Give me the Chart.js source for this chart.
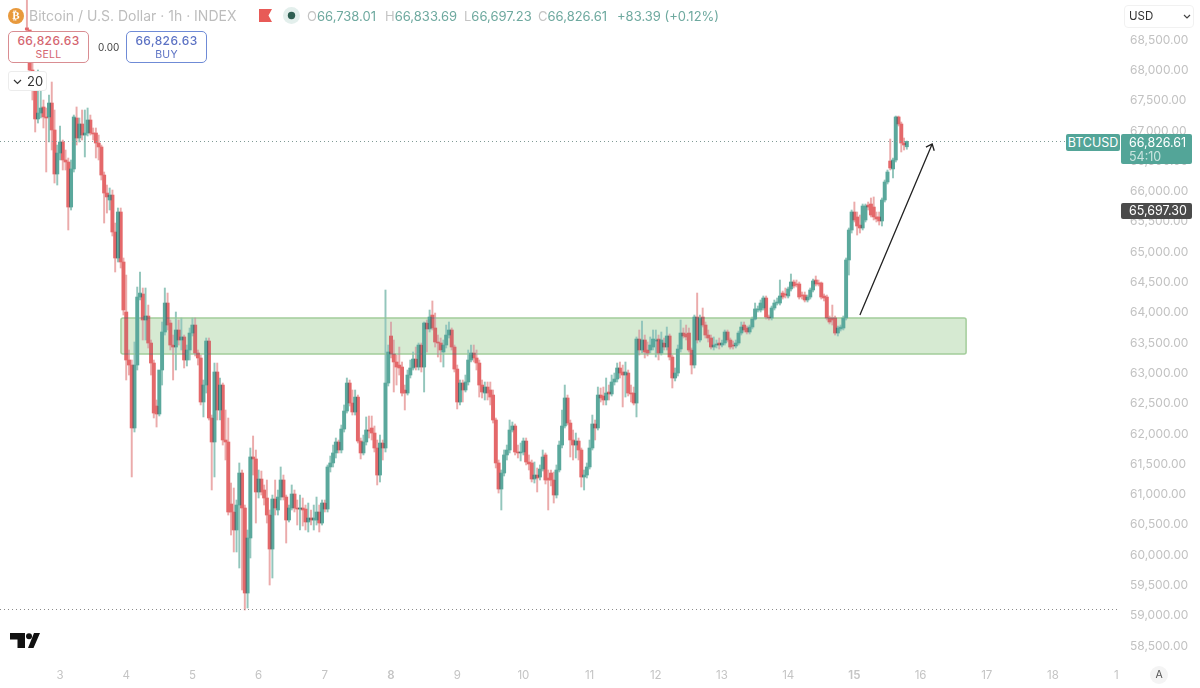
<!DOCTYPE html>
<html>
<head>
<meta charset="utf-8">
<title>BTCUSD 1h</title>
<script src="https://cdn.jsdelivr.net/npm/chart.js@4/dist/chart.umd.min.js"></script>
<style>
  html, body { margin: 0; padding: 0; background: #fff; }
  body { font-family: Inter, "Noto Sans", sans-serif; }
  #wrap { position: relative; width: 1200px; height: 688px; overflow: hidden; }
  #chart { display: block; }
  .abs { position: absolute; white-space: nowrap; }
  .legend { top: 8px; height: 16px; line-height: 16px; font-size: 13px; color: #6ea99f; }
  .legend i { font-style: normal; color: #c4c4c4; }
  .title { left: 29px; top: 7px; font-size: 14px; line-height: 18px; color: #bdbdbd; }
  .trade { top: 31px; height: 30px; width: 79px; background: #fff; border: 1px solid; border-radius: 5px; text-align: center; }
  .trade b { display: block; font-weight: 500; font-size: 12px; line-height: 16px; margin-top: 1px; letter-spacing: .4px; }
  .trade span { display: block; font-size: 10.5px; line-height: 11px; letter-spacing: .3px; }
  .sell { left: 8px; border-color: #d98d92; color: #d4656f; }
  .buy { left: 126px; border-color: #6f8bd6; color: #5c72c4; }
  .tag { color: #fff; font-size: 12.5px; border-radius: 2px; }
</style>
</head>
<body>
<div id="wrap">
  <canvas id="chart" width="1200" height="688"></canvas>

  <div class="abs" style="left:8px;top:8px;width:16px;height:16px;border-radius:50%;background:#e8993c;color:#fff;font:bold 11px/16px 'DejaVu Sans';text-align:center;">₿</div>
  <div class="abs title">Bitcoin / U.S. Dollar · 1h · INDEX</div>
  <svg class="abs" style="left:259px;top:9px" width="13" height="13"><path d="M0 0H13L9.5 6.5L13 13H0Z" fill="#e85a57"/></svg>
  <svg class="abs" style="left:282px;top:6px" width="19" height="19"><circle cx="9.5" cy="9.5" r="8.5" fill="#e3efec"/><circle cx="9.5" cy="9.5" r="3.7" fill="#2f5f52"/></svg>
  <div class="abs legend" style="left:307px"><i>O</i>66,738.01</div>
  <div class="abs legend" style="left:385px"><i>H</i>66,833.69</div>
  <div class="abs legend" style="left:464px"><i>L</i>66,697.23</div>
  <div class="abs legend" style="left:538px"><i>C</i>66,826.61</div>
  <div class="abs legend" style="left:617px">+83.39 (+0.12%)</div>

  <div class="abs trade sell"><b>66,826.63</b><span>SELL</span></div>
  <div class="abs" style="left:98px;top:41px;font-size:10px;line-height:12px;color:#444">0.00</div>
  <div class="abs trade buy"><b>66,826.63</b><span>BUY</span></div>

  <div class="abs" style="left:8px;top:71px;width:37px;height:18px;background:#fff;border:1px solid #ececec;border-radius:3px;font-size:13px;line-height:18px;color:#333">
    <svg style="position:absolute;left:4px;top:7px" width="9" height="6"><path d="M1 1L4.5 4.5L8 1" fill="none" stroke="#333" stroke-width="1.2"/></svg>
    <span style="position:absolute;left:18px">20</span>
  </div>

  <div class="abs" style="left:1124px;top:5px;width:68px;height:21px;background:#fff;border:1px solid #f1f1f1;border-radius:4px;font-size:11.5px;line-height:21px;color:#333">
    <span style="position:absolute;left:4px">USD</span>
    <svg style="position:absolute;left:58px;top:8px" width="8" height="6"><path d="M1 1L4 4L7 1" fill="none" stroke="#444" stroke-width="1.2"/></svg>
  </div>

  <div class="abs tag" style="left:1066px;top:134px;width:54px;height:17px;line-height:17px;background:#53a598;text-align:center;">BTCUSD</div>
  <div class="abs tag" style="left:1121px;top:134px;width:71px;height:30px;background:#53a598;">
    <div style="position:absolute;left:8px;top:1px;line-height:15px">66,826.61</div>
    <div style="position:absolute;left:8px;top:15px;line-height:15px;color:#c9e4df">54:10</div>
  </div>
  <div class="abs tag" style="left:1121px;top:203px;width:71px;height:16px;line-height:16px;background:#4b4b4b;text-indent:8px;">65,697.30</div>

  <svg class="abs" style="left:10px;top:633px" width="30" height="15"><path d="M0 0H15V15H7.5V6.5H0ZM18 15L24 0H30L23.5 15Z" fill="#111"/><circle cx="19" cy="3.2" r="3" fill="#111"/></svg>
  <div class="abs" style="left:1150px;top:666px;width:18px;height:18px;border-radius:50%;background:#f4f4f4;font-size:10.5px;line-height:18px;text-align:center;color:#555">A</div>
</div>

<script>
  // Hourly candles, hour 0 is the start of the 3rd
  const firstHour = -12;

  const opens = [
    68700,68665,68005,67708,67197,67295,67395,67230,67230,67460,67015,66289,
    66635,66817,66520,66487,65744,66372,67213,66883,67114,66932,66965,67180,
    66965,66965,66800,66735,66272,65975,65860,65942,65332,64903,65662,64837,
    64012,63220,63137,62098,63137,64259,64309,63880,63946,63500,63170,62461,
    62329,63055,63682,64160,63830,63467,63434,63715,63550,63600,63220,63385,
    63665,63797,63335,63253,62527,62807,63533,62263,61867,63022,62395,62807,
    61900,61867,60844,60712,60415,60827,61355,60778,59375,60283,61620,61587,
    61042,61256,61075,60943,60662,60101,60926,60745,60959,61240,60959,60580,
    60778,61009,60778,60761,60778,60761,60547,60613,60580,60580,60712,60530,
    60860,60761,61455,61521,61686,61867,61735,62081,62378,62840,62510,62362,
    62608,61883,61686,61867,62065,62098,62015,61768,61322,61850,61768,62840,
    63616,63319,63187,63137,63104,62725,62675,62972,63088,63236,63104,63467,
    63104,63830,63732,63962,63748,63517,63500,63352,63467,63632,63715,63434,
    63071,62527,62840,62725,62857,63220,63335,63253,63170,62807,62675,62774,
    62725,62642,62230,61521,61091,61355,61653,61735,62065,62131,61702,61686,
    61702,61883,61537,61521,61256,61322,61289,61421,61653,61273,61355,61240,
    60992,61405,61817,62131,62593,62180,61900,61817,61883,61735,61289,61322,
    61455,61768,62164,62098,62642,62626,62560,62692,62659,62857,62906,63088,
    63022,62972,63005,62675,62675,62510,63566,63385,63550,63385,63385,63434,
    63533,63566,63335,63500,63434,63616,63269,62923,63005,63401,63665,63649,
    63665,63385,63137,63929,63550,63929,63797,63632,63583,63434,63467,63500,
    63467,63500,63682,63550,63467,63451,63500,63665,63797,63748,63682,63764,
    63896,64045,64045,64078,64243,63929,63913,64078,64160,64160,64325,64309,
    64276,64392,64507,64474,64474,64292,64292,64210,64259,64375,64540,64491,
    64491,64276,64259,63913,63913,63913,63665,63732,63748,63913,64870,65365,
    65662,65580,65447,65398,65530,65777,65794,65744,65580,65580,65514,65860,
    66157,66503,66372,66520,67230,67114,66800,66738.01
  ];

  const highs = [
    70150,68665,68170,67922,68005,67675,67510,67378,67592,67807,67345,66767,
    67081,66850,66685,66553,66520,67262,67395,67213,67345,67345,67378,67262,
    67048,67048,66932,66767,66322,66107,66058,66025,65480,65728,65728,64903,
    64622,63385,63220,63517,64424,64672,64408,64408,64127,63550,63220,62560,
    62972,63847,64408,64325,63880,63632,64012,63880,63913,63632,63467,63748,
    63913,63913,63385,63302,62890,63583,63583,62312,63170,63170,62923,62840,
    62395,62263,61190,61108,60910,61521,61405,60827,60415,61768,61966,61735,
    61405,61388,61158,61240,60745,60992,61240,61075,61455,61322,60992,60827,
    61158,61075,60910,60992,60943,60827,60860,60745,60827,60959,60827,60910,
    60910,61488,61636,61817,61933,61900,62147,62478,62923,62890,62725,62725,
    62642,61933,61982,62280,62296,62296,62131,61900,61982,61900,64375,63467,
    63847,63550,63302,63434,63187,62807,63055,63220,63352,63434,63500,63500,
    63847,63880,64045,64194,63995,63632,63583,63550,63797,63847,63748,63467,
    63137,62890,62890,62972,63385,63467,63467,63385,63220,62890,62857,62857,
    62857,62725,62263,61570,61405,61735,61817,62230,62197,62164,61817,61850,
    61933,61933,61653,61570,61537,61438,61488,61735,61686,61405,61405,61372,
    61488,61883,62395,62807,62642,62230,62065,62015,61933,61768,61405,61521,
    61900,62312,62230,62774,62758,62774,62923,62807,62972,63005,63170,63187,
    63137,63187,63055,62807,62774,63600,63715,63863,63632,63517,63600,63715,
    63715,63632,63682,63583,63764,63649,63302,63088,63467,63880,63748,63797,
    63748,63418,63962,64325,63962,64078,63847,63715,63632,63600,63550,63583,
    63550,63715,63715,63583,63533,63550,63698,63847,63847,63781,63797,63929,
    64160,64111,64210,64276,64276,63962,64111,64210,64243,64540,64358,64408,
    64424,64639,64540,64540,64507,64342,64342,64292,64408,64556,64606,64540,
    64507,64309,64292,63946,64127,63946,63781,63797,63946,64903,65398,65695,
    65827,65662,65612,65794,65794,65827,65893,65910,65662,65662,65893,66190,
    66355,66866,66553,67246,67246,67147,66883,66833.69
  ];

  const lows = [
    68632,67922,67510,66982,67130,67213,67048,66322,66817,66685,66140,66107,
    66520,66355,66355,65365,65695,66322,66767,66817,66850,66570,66916,66932,
    66850,66553,66520,66190,65480,65645,65695,65266,64672,64837,64738,63962,
    62890,62972,61290,62032,63055,64210,63550,63550,63418,62972,62263,62114,
    62296,62807,63632,63715,63385,62890,63055,63467,63385,63088,63121,63220,
    63616,63286,63137,62478,62280,62675,62230,61075,61290,62230,62230,61817,
    61570,60662,60332,60052,60052,59788,59425,59095,59128,59953,61322,60530,
    60943,60992,60827,60530,59507,59623,60662,60662,60910,60910,60200,60547,
    60745,60712,60497,60415,60481,60415,60382,60497,60415,60497,60382,60497,
    60712,60712,61372,61455,61603,61686,61686,62032,62345,62461,62312,62312,
    61850,61587,61653,61817,61933,61900,61702,61158,61207,61570,61702,62791,
    63253,62692,62807,62972,62626,62395,62642,62923,63055,63055,63055,63022,
    62692,63352,63682,63715,63434,63269,63187,63104,63418,63583,63385,63022,
    62412,62478,62527,62692,62807,63187,63187,63055,62609,62593,62560,62560,
    62478,62180,61438,61025,60745,61306,61570,61686,62032,61653,61603,61554,
    61653,61488,61405,61207,61190,61042,61240,61388,61174,60745,61141,60860,
    60943,61372,61768,62098,62147,61620,61570,61603,61570,61124,61075,61273,
    61421,61735,61900,62065,62527,62478,62478,62560,62626,62807,62857,62923,
    62445,62609,62626,62527,62478,62280,63302,63335,63253,63286,63335,63385,
    63269,63220,63302,63385,63385,63220,62758,62874,62956,63352,63583,63550,
    63352,62989,63088,63500,63517,63764,63583,63517,63401,63385,63418,63401,
    63434,63467,63517,63401,63401,63418,63467,63632,63682,63649,63649,63732,
    63880,64012,64012,64045,63896,63880,63880,64045,64127,64127,64226,64243,
    64243,64358,64408,64424,64226,64226,64177,64177,64226,64342,64441,64441,
    64226,64194,63880,63814,63797,63632,63616,63698,63715,63880,64622,65315,
    65497,65282,65315,65365,65497,65695,65580,65530,65497,65447,65431,65827,
    66124,66355,66223,66487,67081,66652,66685,66697.23
  ];

  const closes = [
    68665,68005,67840,67197,67295,67378,67230,67213,67460,67015,66289,66635,
    66817,66520,66487,65744,66372,67230,66883,67114,66932,66965,67180,66965,
    66949,66800,66735,66272,65975,65910,65942,65332,64903,65662,64837,64045,
    63220,63137,62098,63137,64259,64325,63880,63946,63500,63170,62345,62329,
    63055,63682,64160,63797,63467,63434,63715,63550,63600,63220,63385,63665,
    63797,63335,63253,62527,62807,63533,62263,61867,63022,62395,62807,61900,
    61867,60712,60712,60415,60827,61355,60778,59375,60283,61620,61587,61042,
    61256,61042,60943,60662,60101,60926,60778,60959,61240,60959,60580,60778,
    61009,60778,60761,60778,60745,60547,60613,60580,60613,60712,60530,60860,
    60761,61455,61521,61686,61867,61735,62081,62378,62840,62510,62362,62608,
    61883,61686,61867,62065,62048,62015,61768,61322,61850,61768,62840,63352,
    63319,63187,63104,63088,62675,62675,62972,63088,63236,63104,63467,63104,
    63830,63732,63929,63748,63517,63500,63385,63467,63632,63715,63434,63071,
    62527,62840,62725,62857,63220,63335,63253,63170,62807,62692,62774,62675,
    62609,62230,61521,61091,61355,61653,61735,62065,62131,61702,61686,61702,
    61883,61537,61504,61256,61322,61273,61421,61620,61240,61240,61240,60992,
    61405,61817,62131,62593,62180,61900,61817,61883,61735,61289,61322,61455,
    61768,62164,62098,62642,62593,62560,62675,62659,62857,62906,63088,63005,
    62972,63022,62675,62659,62510,63566,63385,63550,63352,63335,63467,63566,
    63550,63335,63550,63434,63616,63269,62923,63005,63401,63665,63616,63600,
    63385,63137,63929,63550,63913,63797,63632,63583,63434,63467,63484,63467,
    63500,63682,63550,63434,63451,63500,63665,63764,63715,63682,63764,63896,
    64062,64062,64160,64243,63929,63913,64078,64160,64177,64276,64259,64292,
    64392,64507,64441,64458,64259,64276,64210,64259,64375,64524,64474,64474,
    64259,64243,63913,63847,63880,63665,63748,63764,63913,64870,65365,65662,
    65530,65431,65398,65761,65761,65744,65612,65580,65547,65514,65860,66157,
    66322,66388,66520,67230,67114,66800,66767,66826.61
  ];

  // Day marks on the time axis
  const dayHours = [0, 24, 48, 72, 96, 120, 144, 168, 192, 216, 240, 264, 288, 312, 336, 360, 383];
  const dayLabels = ['3', '4', '5', '6', '7', '8', '9', '10', '11', '12', '13', '14', '15', '16', '17', '18', '1'];
  const boldDays = ['8', '15'];

  const priceTicks = [58500, 59000, 59500, 60000, 60500, 61000, 61500, 62000, 62500, 63000, 63500, 64000, 64500, 65000, 65500, 66000, 66500, 67000, 67500, 68000, 68500];

  // Support zone, swing-low level and the drawn arrow, in hours and price
  const zoneHours = [22.1, 328.5];
  const zonePrices = [63318, 63913];
  const lastPrice = 66826.61;
  const lowLevel = 59111;
  const arrowFrom = [290, 63962];
  const arrowTo = [316.2, 66784];

  const hours = opens.map((o, i) => firstHour + i);

  const upColor = '#5aa89c';
  const downColor = '#e4686a';
  const upWick = '#93c6bc';
  const downWick = '#ebabab';

  const isUp = i => closes[i] >= opens[i];

  // Zone sits under the candles, candles use darken so overlaps go grey
  const underlayPlugin = {
    id: 'underlay',
    beforeDatasetsDraw(chart) {
      const { ctx, scales: { x, y } } = chart;
      const left = x.getPixelForValue(zoneHours[0]);
      const right = x.getPixelForValue(zoneHours[1]);
      const top = y.getPixelForValue(zonePrices[1]);
      const bottom = y.getPixelForValue(zonePrices[0]);

      ctx.save();
      ctx.beginPath();
      ctx.roundRect(left, top, right - left, bottom - top, 2);
      ctx.fillStyle = '#d6ead2';
      ctx.fill();
      ctx.lineWidth = 1.5;
      ctx.strokeStyle = '#a3cd9b';
      ctx.stroke();
      ctx.restore();

      ctx.save();
      ctx.globalCompositeOperation = 'darken';
    },
    afterDatasetsDraw(chart) {
      chart.ctx.restore();
    }
  };

  // Dotted price levels and the arrow
  const overlayPlugin = {
    id: 'overlay',
    afterDatasetsDraw(chart) {
      const { ctx, scales: { x, y } } = chart;

      ctx.save();
      ctx.lineWidth = 1;
      ctx.setLineDash([1, 3]);
      ctx.strokeStyle = '#7f9a95';
      ctx.beginPath();
      ctx.moveTo(0, Math.round(y.getPixelForValue(lastPrice)) + 0.5);
      ctx.lineTo(1066, Math.round(y.getPixelForValue(lastPrice)) + 0.5);
      ctx.stroke();

      ctx.strokeStyle = '#8a8a8a';
      ctx.beginPath();
      ctx.moveTo(0, Math.round(y.getPixelForValue(lowLevel)) + 0.5);
      ctx.lineTo(1120, Math.round(y.getPixelForValue(lowLevel)) + 0.5);
      ctx.stroke();

      const x1 = x.getPixelForValue(arrowFrom[0]);
      const y1 = y.getPixelForValue(arrowFrom[1]);
      const x2 = x.getPixelForValue(arrowTo[0]);
      const y2 = y.getPixelForValue(arrowTo[1]);
      const angle = Math.atan2(y2 - y1, x2 - x1);

      ctx.setLineDash([]);
      ctx.lineWidth = 1.3;
      ctx.strokeStyle = '#222';
      ctx.beginPath();
      ctx.moveTo(x1, y1);
      ctx.lineTo(x2, y2);
      ctx.moveTo(x2 - 7 * Math.cos(angle - 0.7), y2 - 7 * Math.sin(angle - 0.7));
      ctx.lineTo(x2, y2);
      ctx.lineTo(x2 - 7 * Math.cos(angle + 0.7), y2 - 7 * Math.sin(angle + 0.7));
      ctx.stroke();
      ctx.restore();
    }
  };

  // Axis sizes are fixed, drop the room Chart.js keeps for edge labels
  function clearPadding(axis) {
    axis.paddingLeft = 0;
    axis.paddingRight = 0;
    axis.paddingTop = 0;
    axis.paddingBottom = 0;
  }

  new Chart(document.getElementById('chart'), {
    type: 'bar',
    data: {
      labels: hours,
      datasets: [
        {
          label: 'Wicks',
          data: hours.map((h, i) => [lows[i], highs[i]]),
          backgroundColor: hours.map((h, i) => isUp(i) ? upWick : downWick),
          barThickness: 1.3,
          grouped: false,
          order: 2
        },
        {
          label: 'Bodies',
          data: hours.map((h, i) => [opens[i], closes[i]]),
          backgroundColor: hours.map((h, i) => isUp(i) ? upColor : downColor),
          barThickness: 3.3,
          minBarLength: 1,
          grouped: false,
          order: 1
        }
      ]
    },
    options: {
      responsive: false,
      animation: false,
      layout: { padding: 0 },
      plugins: { legend: { display: false }, tooltip: { enabled: false } },
      scales: {
        x: {
          type: 'linear',
          offset: false,
          min: -21.76,
          max: 384.3,
          grid: { display: false, offset: false, tickLength: 0 },
          border: { display: false },
          afterBuildTicks(axis) {
            axis.ticks = dayHours.map(value => ({ value }));
          },
          afterFit(axis) {
            axis.height = 28;
            clearPadding(axis);
          },
          ticks: {
            autoSkip: false,
            maxRotation: 0,
            padding: 9,
            color: '#c4c4c4',
            font: ctx => ({
              family: 'Inter',
              size: 11.5,
              weight: boldDays.includes(dayLabels[ctx.index]) ? '600' : '400'
            }),
            callback: (value, index) => dayLabels[index]
          }
        },
        y: {
          position: 'right',
          min: 58270,
          max: 69160,
          grid: { display: false, tickLength: 0 },
          border: { display: false },
          afterBuildTicks(axis) {
            axis.ticks = priceTicks.map(value => ({ value }));
          },
          afterFit(axis) {
            axis.width = 80;
            clearPadding(axis);
          },
          ticks: {
            autoSkip: false,
            padding: 10,
            color: '#c2c2c2',
            font: { family: 'Inter', size: 12 },
            callback: value => value.toLocaleString('en-US', { minimumFractionDigits: 2 })
          }
        }
      }
    },
    plugins: [underlayPlugin, overlayPlugin]
  });
</script>
</body>
</html>
